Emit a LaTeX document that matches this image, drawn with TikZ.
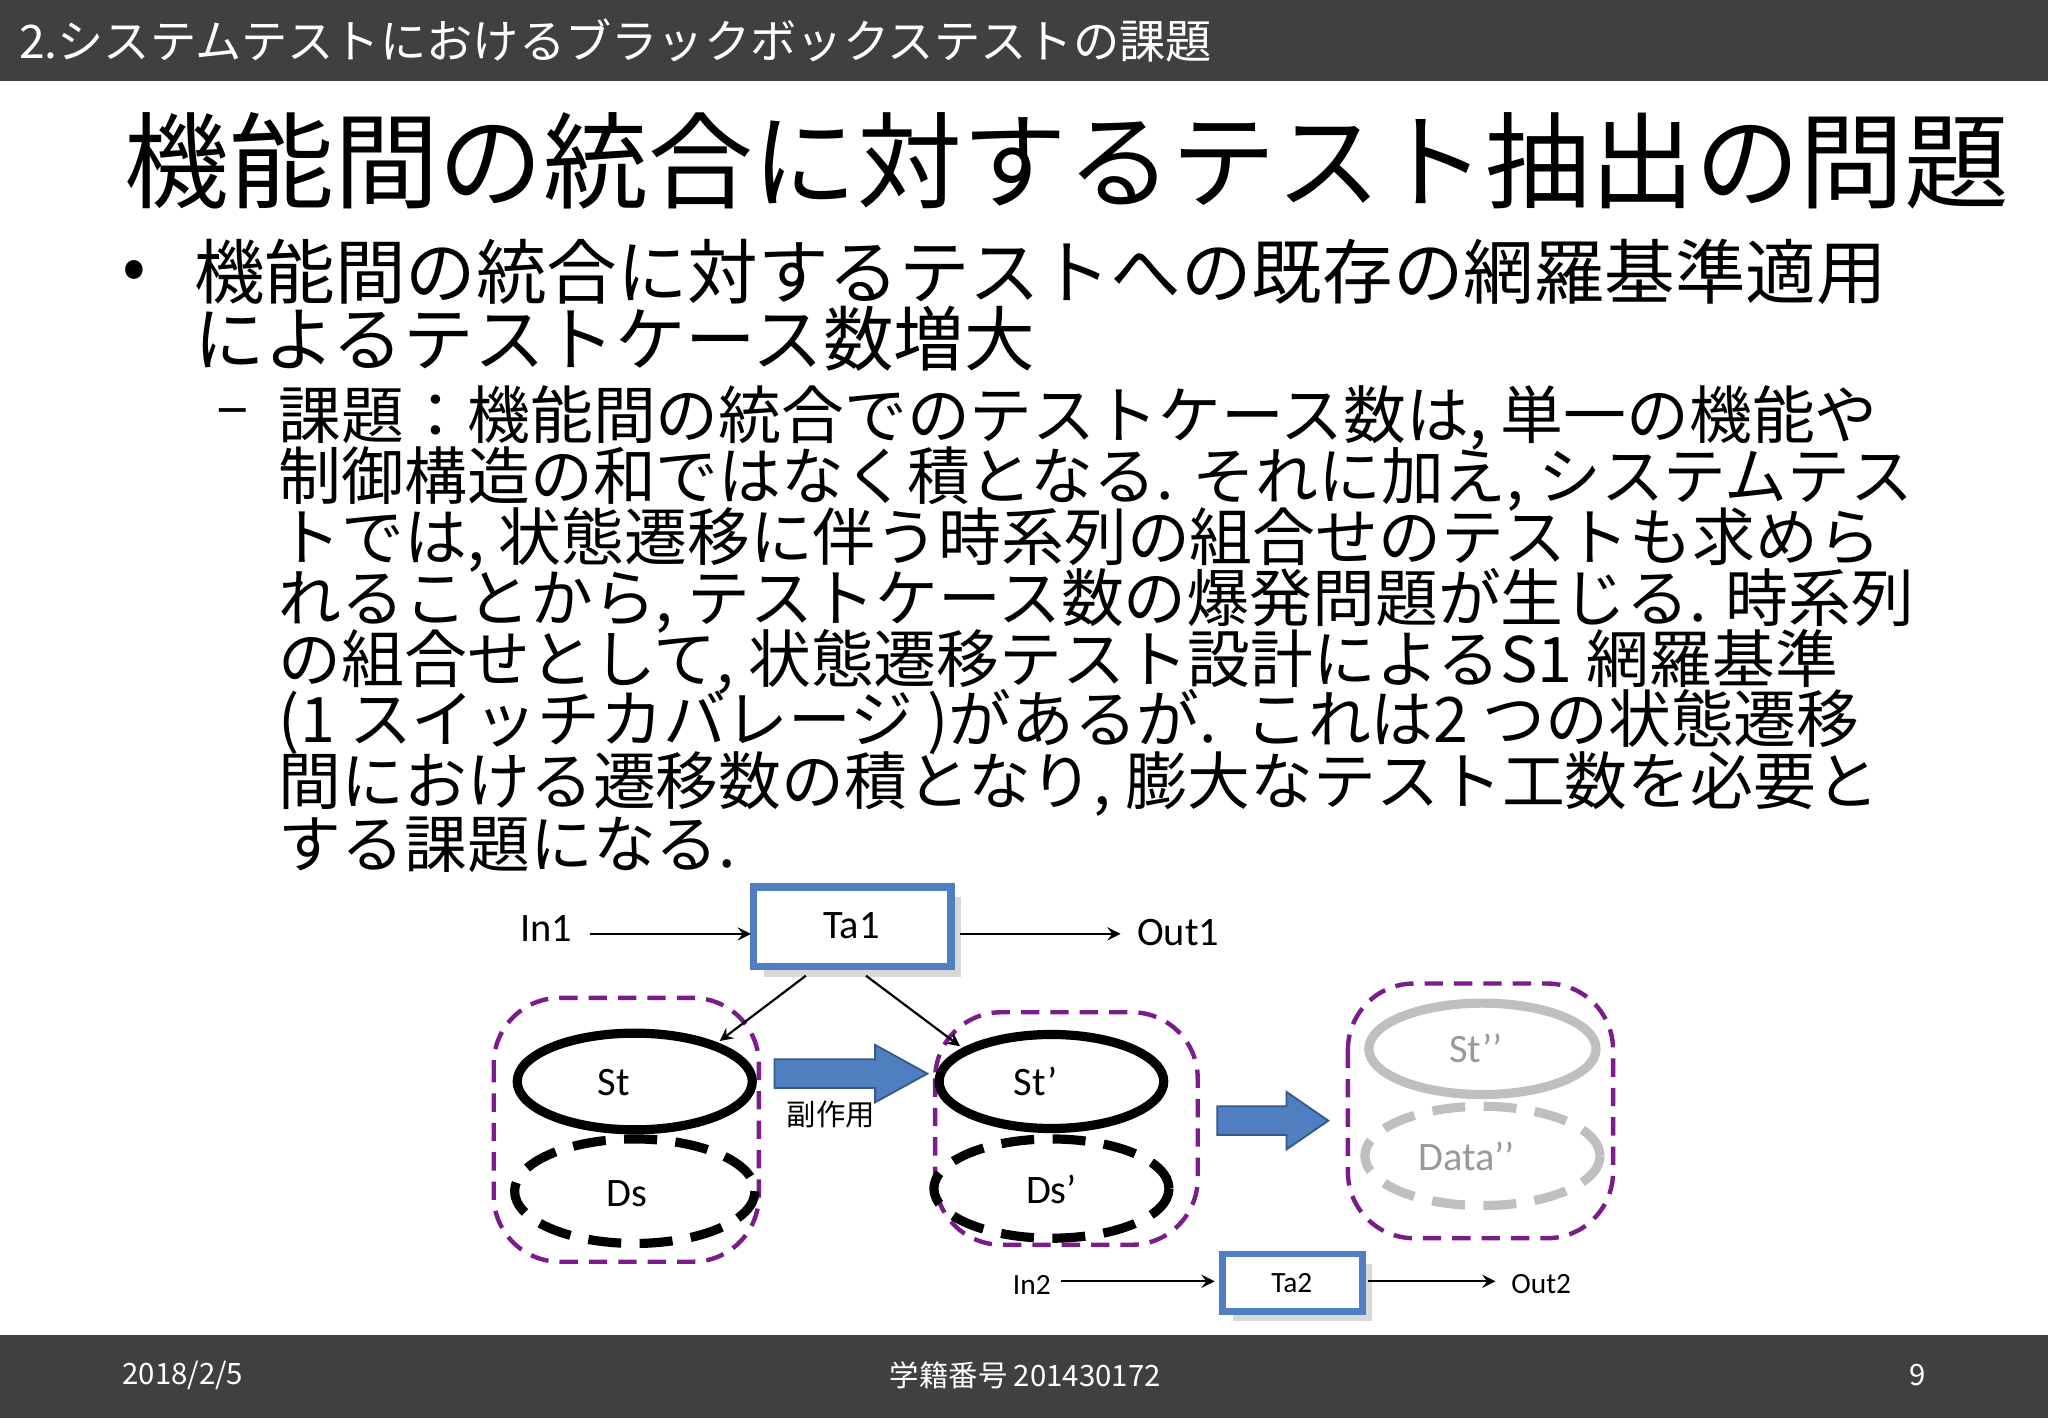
\documentclass[tikz,border=0pt]{standalone}
\usepackage{fontspec}
\setmainfont{Noto Sans CJK JP}
\newfontfamily\calfnt{Carlito}
\usetikzlibrary{shadows}
\definecolor{bar}{HTML}{404040}
\definecolor{bx}{HTML}{4F7FC0}
\definecolor{pur}{HTML}{7A1C8A}
\definecolor{gr}{HTML}{BFBFBF}
\begin{document}
\begin{tikzpicture}[x=0.0125cm,y=-0.0125cm,
 body/.style={anchor=west,inner sep=0,font=\fontsize{17.1}{18}\selectfont},
 lab/.style={font=\calfnt\fontsize{11}{12}\selectfont,inner sep=0},
 slab/.style={font=\calfnt\fontsize{8}{9}\selectfont,inner sep=0},
 tbox/.style={draw=bx,line width=2pt,fill=white,drop shadow={opacity=0.3}},
 grp/.style={draw=pur,line width=1.2pt,dash pattern=on 5pt off 3pt,rounded corners=18pt},
 solidell/.style={draw=black,line width=2.5pt},
 dashell/.style={draw=black,line width=2.5pt,dash pattern=on 9pt off 5pt},
 arr/.style={->,>=stealth,line width=0.6pt},
 barrow/.style={fill=bx,draw=bx!70!black,line width=0.5pt}]
\useasboundingbox (0,0) rectangle (1568,1086);
\fill[white] (0,0) rectangle (1568,1086);
\fill[bar] (0,0) rectangle (1568,62);
\node[anchor=west,text=white,font=\fontsize{12.6}{13}\selectfont,inner sep=0] (hd) at (14,31) {2.システムテストにおけるブラックボックステストの課題};
\node[anchor=west,inner sep=0,font=\fontsize{28.5}{30}\selectfont] (ttl) at (95,123) {機能間の統合に対するテスト抽出の問題};
\node[anchor=west,inner sep=0,font=\fontsize{19}{20}\selectfont] (b1) at (93,211) {•};
\node[anchor=west,inner sep=0,font=\fontsize{19.2}{20}\selectfont] (l1) at (148,208) {機能間の統合に対するテストへの既存の網羅基準適用};
\node[anchor=west,inner sep=0,font=\fontsize{19.2}{20}\selectfont] (l2) at (148,259) {によるテストケース数増大};
\node[anchor=west,inner sep=0,font=\fontsize{16.5}{18}\selectfont] (d1) at (165,320) {–};
\node[body] (s1) at (213,320) {課題：機能間の統合でのテストケース数は, 単一の機能や};
\node[body] (s2) at (213,367) {制御構造の和ではなく積となる. それに加え, システムテス};
\node[body] (s3) at (213,413) {トでは, 状態遷移に伴う時系列の組合せのテストも求めら};
\node[body] (s4) at (213,460) {れることから, テストケース数の爆発問題が生じる. 時系列};
\node[body] (s5) at (213,507) {の組合せとして, 状態遷移テスト設計によるS1 網羅基準};
\node[body] (s6) at (213,553) {(1 スイッチカバレージ )があるが.\ \ これは2 つの状態遷移};
\node[body] (s7) at (213,600) {間における遷移数の積となり, 膨大なテスト工数を必要と};
\node[body] (s8) at (213,647) {する課題になる.};
% diagram
\node[lab] (in1) at (418,711) {In1};
\draw[tbox] (577,679) rectangle (728,740);
\node[lab] (ta1t) at (652,709) {Ta1};
\node[lab] (out1) at (902,714) {Out1};
\coordinate (in1e) at (452,715); \coordinate (ta1w) at (575,715);
\coordinate (ta1e) at (735,715); \coordinate (out1w) at (858,715);
\draw[arr] (in1e) -- (ta1w);
\draw[arr] (ta1e) -- (out1w);
\draw[grp] (378,764) rectangle (581,966);
\draw[grp] (716,775) rectangle (917,953);
\draw[grp] (1032,753) rectangle (1235,948);
\draw[solidell] (486,828) ellipse [x radius=90,y radius=37];
\node[lab] (st) at (470,829) {St};
\draw[dashell] (486,912) ellipse [x radius=92,y radius=40];
\node[lab] (ds) at (480,914) {Ds};
\draw[solidell] (805,828) ellipse [x radius=86,y radius=36];
\node[lab] (st2) at (793,828) {St’};
\draw[dashell] (805,910) ellipse [x radius=90,y radius=38];
\node[lab] (ds2) at (805,911) {Ds’};
\draw[solidell,draw=gr] (1135,803) ellipse [x radius=87,y radius=35];
\node[lab,text=gr!80!black] (st3) at (1130,803) {St’’};
\draw[dashell,draw=gr] (1135,885) ellipse [x radius=90,y radius=38];
\node[lab,text=gr!80!black] (dt3) at (1123,885) {Data’’};
\coordinate (a1) at (617,747); \coordinate (a1e) at (551,797);
\coordinate (a2) at (663,747); \coordinate (a2e) at (735,801);
\draw[arr] (a1) -- (a1e);
\draw[arr] (a2) -- (a2e);
\draw[barrow] (593,811) -- (670,811) -- (670,800) -- (710,822) -- (670,844) -- (670,833) -- (593,833) -- cycle;
\node[inner sep=0,font=\fontsize{8}{9}\selectfont] (fk) at (636,853) {副作用};
\draw[barrow] (932,847) -- (985,847) -- (985,836) -- (1017,858) -- (985,880) -- (985,869) -- (932,869) -- cycle;
\node[slab] (in2) at (790,984) {In2};
\draw[tbox,line width=1.8pt] (936,960) rectangle (1043,1004);
\node[slab] (ta2) at (989,982) {Ta2};
\node[slab] (out2) at (1180,983) {Out2};
\coordinate (in2e) at (812,981); \coordinate (ta2w) at (930,981);
\coordinate (ta2e) at (1047,981); \coordinate (out2w) at (1145,981);
\draw[arr] (in2e) -- (ta2w);
\draw[arr] (ta2e) -- (out2w);
% footer
\fill[bar] (0,1022) rectangle (1568,1086);
\node[text=white,inner sep=0,font=\fontsize{8}{9}\selectfont] (f1) at (140,1053) {2018/2/5};
\node[text=white,inner sep=0,font=\fontsize{8}{9}\selectfont] (f2) at (785,1053) {学籍番号 201430172};
\node[text=white,inner sep=0,font=\fontsize{8}{9}\selectfont] (f3) at (1468,1053) {9};
\end{tikzpicture}
\end{document}
